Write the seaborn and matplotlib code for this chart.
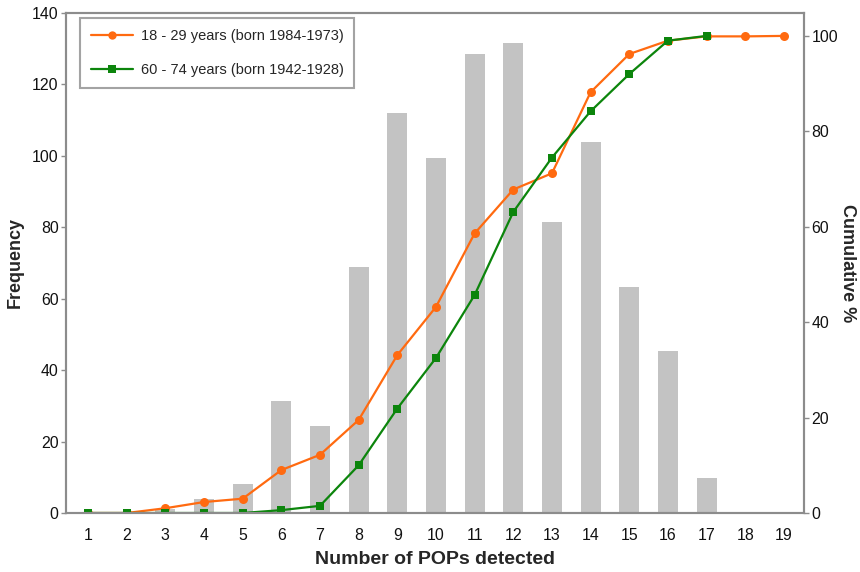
import matplotlib
matplotlib.use("Agg")
import matplotlib.pyplot as plt
from matplotlib.lines import Line2D
import seaborn as sns
import pandas as pd

# Number of POPs detected per person
pops_detected = list(range(1, 20))
frequency = [0, 0, 1, 4, 8, 31.5, 24.5, 69, 112, 99.5, 128.5, 131.5, 81.5, 104, 63.3, 45.5, 9.7, 0, 0]

# Cumulative percentage by age group
cum_young = [0, 0, 1.0, 2.3, 3.0, 9.0, 12.2, 19.5, 33.1, 43.2, 58.6, 67.8, 71.2, 88.2, 96.2, 99.0, 99.9, 99.9, 100]
cum_old = [0, 0, 0, 0, 0, 0.6, 1.5, 10.0, 21.9, 32.5, 45.7, 63.1, 74.5, 84.2, 92.0, 99.0, 100]

label_young = "18 - 29 years (born 1984-1973)"
label_old = "60 - 74 years (born 1942-1928)"

sns.set_theme(style="white")
plt.rcParams["font.family"] = ["Liberation Sans", "DejaVu Sans"]

GREY_SPINE = "#8c8c8c"
BAR = "#c3c3c3"
ORANGE = "#ff6a10"
GREEN = "#0c850c"

fig = plt.figure(figsize=(8.6, 5.72), dpi=100)
ax = fig.add_axes([66 / 860, 1 - 513 / 572, (804 - 66) / 860, 500 / 572])

bars = pd.DataFrame({"pops": pops_detected, "freq": frequency})
sns.barplot(data=bars, x="pops", y="freq", native_scale=True, width=0.52,
            color=BAR, saturation=1, edgecolor="none", linewidth=0, ax=ax)

ax.set_xlim(0.43, 19.52)
ax.set_ylim(0, 140)
ax.set_xticks(pops_detected)
ax.set_xticklabels([str(v) for v in pops_detected])
ax.set_yticks(range(0, 141, 20))
ax.set_xlabel("Number of POPs detected", fontsize=14, fontweight="bold", labelpad=6)
ax.set_ylabel("Frequency", fontsize=13, fontweight="bold", labelpad=6)

ax2 = ax.twinx()
young = pd.DataFrame({"pops": pops_detected[:len(cum_young)], "pct": cum_young})
old = pd.DataFrame({"pops": pops_detected[:len(cum_old)], "pct": cum_old})
sns.lineplot(data=young, x="pops", y="pct", color=ORANGE, marker="o", markersize=6.5,
             markeredgewidth=0, linewidth=1.6, ax=ax2)
sns.lineplot(data=old, x="pops", y="pct", color=GREEN, marker="s", markersize=6,
             markeredgewidth=0, linewidth=1.6, ax=ax2)
ax2.set_ylim(0, 104.8)
ax2.set_yticks(range(0, 101, 20))
ax2.set_ylabel("Cumulative %", fontsize=13, fontweight="bold", rotation=-90, labelpad=13)

for a in (ax, ax2):
    for s in a.spines.values():
        s.set_color(GREY_SPINE)
        s.set_linewidth(1.5)
    a.tick_params(axis="both", which="both", direction="out", length=3.6, width=1,
                  color=GREY_SPINE, labelsize=11.4, labelcolor="#111111", pad=1.8)
    a.grid(False)
ax.tick_params(axis="x", pad=7)

handles = [
    Line2D([0], [0], color=ORANGE, marker="o", markersize=6, markeredgewidth=0, linewidth=1.6, label=label_young),
    Line2D([0], [0], color=GREEN, marker="s", markersize=5.5, markeredgewidth=0, linewidth=1.6, label=label_old),
]
leg = ax2.legend(handles=handles, loc="upper left", bbox_to_anchor=(0.019, 0.99),
                 fontsize=10.5, frameon=True, fancybox=False, handlelength=2.9,
                 borderpad=0.75, labelspacing=1.4, handletextpad=0.5, borderaxespad=0)
leg.get_frame().set_edgecolor(GREY_SPINE)
leg.get_frame().set_linewidth(1.5)

fig.savefig("out.png", dpi=100)
